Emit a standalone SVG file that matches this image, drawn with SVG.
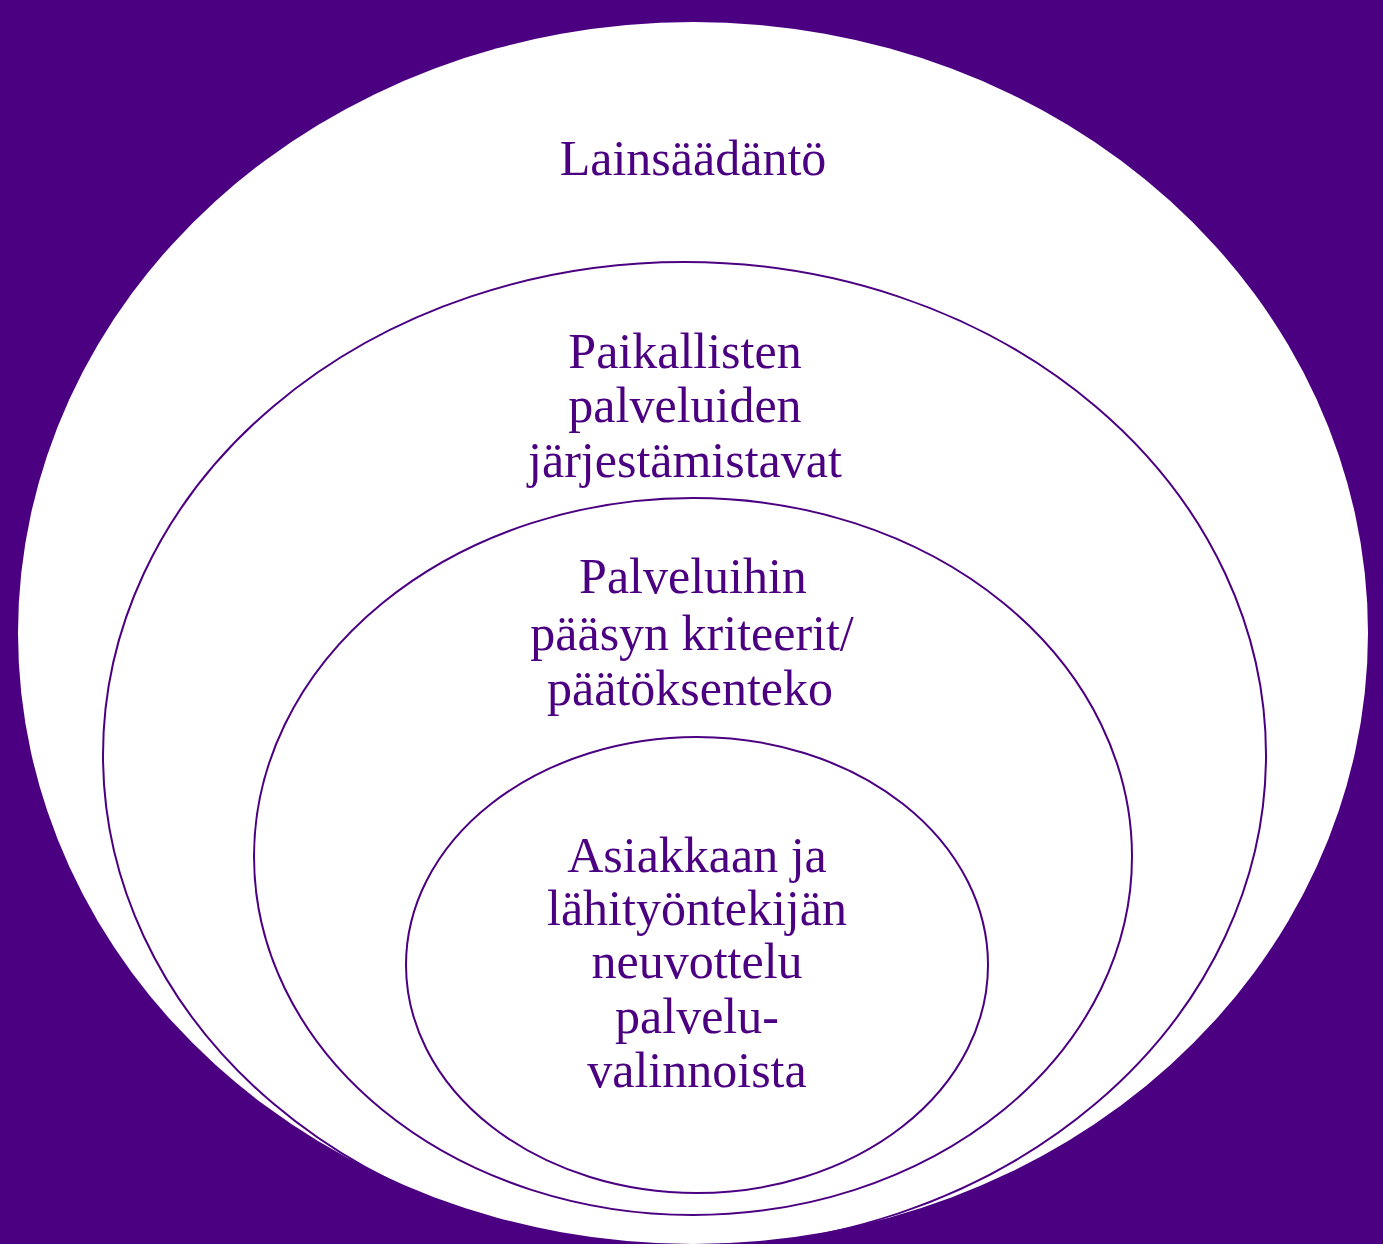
<svg xmlns="http://www.w3.org/2000/svg" width="1383" height="1244" viewBox="0 0 1383 1244">
<style>
.ring{fill:none;stroke:#4B0082;stroke-width:2}
.lbl{font-family:"Liberation Serif","Times New Roman",serif;font-size:50px;fill:#4B0082;text-anchor:middle}
</style>
<rect x="0" y="0" width="1383" height="1244" fill="#4B0082"/>
<g id="lainsaadanto">
<ellipse cx="693" cy="633" rx="675" ry="611" fill="#FFFFFF"/>
<text class="lbl" x="693" y="175">Lainsäädäntö</text>
</g>
<g id="paikallisten">
<ellipse class="ring" cx="684.5" cy="755" rx="581.5" ry="493"/>
<text class="lbl" x="685" y="368">Paikallisten</text>
<text class="lbl" x="685" y="422">palveluiden</text>
<text class="lbl" x="685" y="477">järjestämistavat</text>
</g>
<g id="kriteerit">
<ellipse class="ring" cx="693" cy="856.5" rx="439" ry="358.5"/>
<text class="lbl" x="693" y="593">Palveluihin</text>
<text class="lbl" x="692" y="650">pääsyn kriteerit/</text>
<text class="lbl" x="690" y="705">päätöksenteko</text>
</g>
<g id="neuvottelu">
<ellipse class="ring" cx="697" cy="965" rx="291" ry="228"/>
<text class="lbl" x="697" y="872">Asiakkaan ja</text>
<text class="lbl" x="697" y="925">lähityöntekijän</text>
<text class="lbl" x="697" y="978">neuvottelu</text>
<text class="lbl" x="697" y="1033">palvelu-</text>
<text class="lbl" x="697" y="1087">valinnoista</text>
</g>
<g id="connectors"></g>
</svg>
